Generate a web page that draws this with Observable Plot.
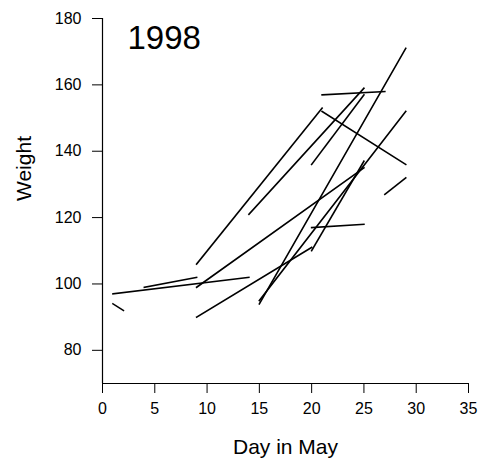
<!DOCTYPE html>
<html>
<head>
<meta charset="utf-8">
<script src="https://cdn.jsdelivr.net/npm/d3@7"></script>
<script src="https://cdn.jsdelivr.net/npm/@observablehq/plot@0.6"></script>
<style>
  html, body { margin: 0; padding: 0; background: #fff; }
  #chart { width: 483px; height: 465px; }
</style>
</head>
<body>
<div id="chart"></div>
<script>
// Segment start/end (day in May, weight)
const dayStart    = [1, 1, 4, 9, 9, 21, 9, 20, 14, 15, 15, 20, 21, 20, 27];
const weightStart = [94, 97, 99, 99, 106, 152, 90, 110, 121, 94, 95, 136, 157, 117, 127];
const dayEnd      = [2, 14, 9, 25, 21, 29, 20, 25, 25, 29, 29, 25, 27, 25, 29];
const weightEnd   = [92, 102, 102, 135, 153, 136, 111, 137, 159, 171, 152, 157, 158, 118, 132];

const xTicks = [0, 5, 10, 15, 20, 25, 30, 35];
const yTicks = [80, 100, 120, 140, 160, 180];
const title = "1998";
const xLabel = "Day in May";
const yLabel = "Weight";

const segments = dayStart.map((d, i) => ({
  x1: d, y1: weightStart[i], x2: dayEnd[i], y2: weightEnd[i]
}));

const chart = Plot.plot({
  width: 483,
  height: 465,
  marginLeft: 102,
  marginRight: 15,
  marginTop: 18,
  marginBottom: 82,
  style: { fontFamily: "'Liberation Sans', Arial, sans-serif", background: "#fff", color: "#000" },
  x: { domain: [0, 35] },
  y: { domain: [70, 180] },
  marks: [
    Plot.axisX({ ticks: xTicks, tickSize: 10, tickPadding: 9, fontSize: 16, label: null }),
    Plot.axisY({ ticks: yTicks, tickSize: 10, tickPadding: 11, fontSize: 16, label: null }),
    Plot.ruleY([70], { stroke: "#000", strokeWidth: 1.2 }),
    Plot.ruleX([0], { stroke: "#000", strokeWidth: 1.2 }),
    Plot.link(segments, {
      x1: "x1", y1: "y1", x2: "x2", y2: "y2",
      stroke: "#000", strokeWidth: 1.6, strokeLinecap: "square"
    }),
    Plot.text([title], {
      frameAnchor: "top-left", textAnchor: "start", lineAnchor: "top",
      dx: 25, dy: 7, fontSize: 33, fill: "#000"
    }),
    Plot.text([xLabel], {
      frameAnchor: "bottom", lineAnchor: "top", dy: 56, fontSize: 21, fill: "#000"
    }),
    Plot.text([yLabel], {
      frameAnchor: "left", rotate: -90, dx: -78, fontSize: 21, fill: "#000"
    })
  ]
});

document.getElementById("chart").appendChild(chart);
</script>
</body>
</html>
